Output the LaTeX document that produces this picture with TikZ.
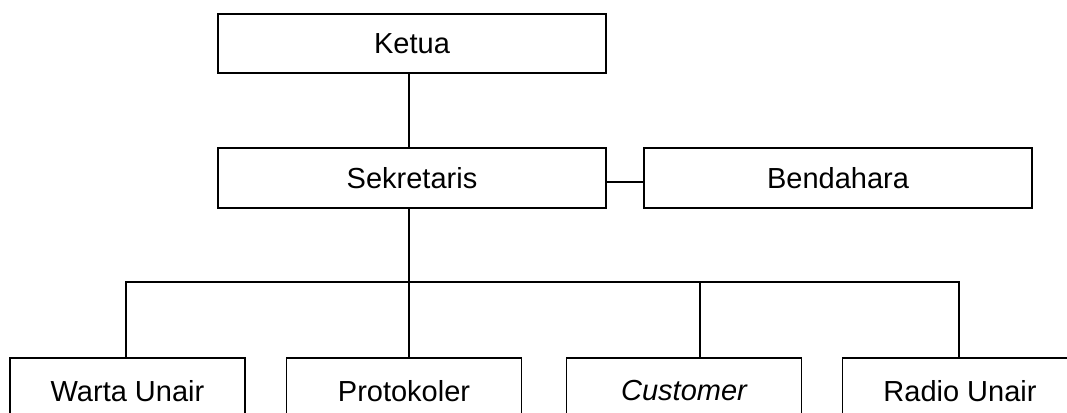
\documentclass[tikz,border=0pt]{standalone}
\usepackage{fontspec}
\setmainfont{Liberation Sans}
\begin{document}
\begin{tikzpicture}[x=1pt,y=-1pt,
  box/.style={draw=black,line width=1.4pt,fill=white,inner sep=0pt,anchor=center,
    font=\fontsize{29}{34}\selectfont},
  topbox/.style={box,minimum width=388pt,minimum height=59pt},
  unitbox/.style={box,minimum width=235pt,minimum height=66pt},
  link/.style={draw=black,line width=1.4pt}]
\useasboundingbox (0,0) rectangle (1067,412);
\clip (0,0) rectangle (1067,412);
\fill[white] (0,0) rectangle (1067,412);
\node[topbox] (ket) at (412,43.5) {Ketua};
\node[topbox,minimum height=60pt] (sek) at (412,178) {Sekretaris};
\node[topbox,minimum height=60pt] (ben) at (838,178) {Bendahara};
\node[unitbox] (war) at (127.5,391) {Warta Unair};
\node[unitbox] (pro) at (404,391) {Protokoler};
\node[unitbox] (cus) at (684,391) {\itshape Customer};
\node[unitbox] (rad) at (960,391) {Radio Unair};
\coordinate (bus) at (409,282);
\coordinate (busL) at (126,282);
\coordinate (busC) at (700,282);
\coordinate (busR) at (959,282);
\draw[link] (ket.south -| bus) -- (sek.north -| bus);
\draw[link] ([yshift=-4pt]sek.east) -- ([yshift=-4pt]ben.west);
\draw[link] (sek.south -| bus) -- (pro.north -| bus);
\draw[link] (war.north -| busL) -- (busL) -- (busR) -- (rad.north -| busR);
\draw[link] (busC) -- (cus.north -| busC);
\end{tikzpicture}
\end{document}
